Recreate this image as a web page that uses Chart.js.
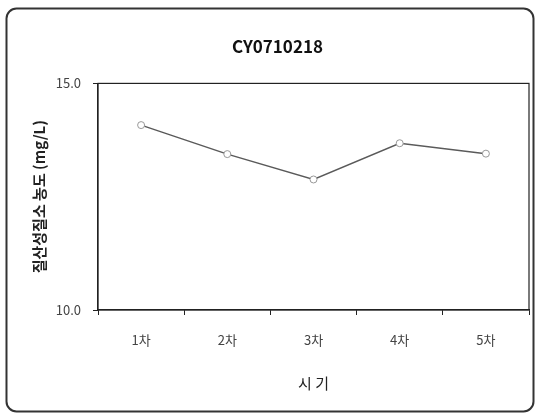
<!DOCTYPE html>
<html>
<head>
<meta charset="utf-8">
<script src="https://cdn.jsdelivr.net/npm/chart.js@4"></script>
<style>
  html, body { margin: 0; padding: 0; background: #fff; }
  #wrap { width: 540px; height: 419px; }
</style>
</head>
<body>
<div id="wrap"><canvas id="chart" width="540" height="419"></canvas></div>
<script>
// chart data
const periods = ['1차', '2차', '3차', '4차', '5차'];
const nitrateValues = [14.08, 13.44, 12.88, 13.68, 13.45];
const yTicks = [10, 15];

const fontKR = "'Noto Sans CJK KR', 'Noto Sans', sans-serif";

// rounded frame round the whole chart + box round the plot area
const framePlugin = {
  id: 'frame',
  beforeDraw(chart) {
    const ctx = chart.ctx;
    ctx.save();
    ctx.fillStyle = '#fff';
    ctx.fillRect(0, 0, chart.width, chart.height);
    ctx.restore();
  },
  afterDraw(chart) {
    const ctx = chart.ctx;
    const a = chart.chartArea;
    ctx.save();
    ctx.strokeStyle = '#222';
    ctx.lineWidth = 1.2;
    ctx.strokeRect(a.left, a.top, a.right - a.left, a.bottom - a.top);
    ctx.strokeStyle = '#333';
    ctx.lineWidth = 2;
    ctx.beginPath();
    ctx.roundRect(6.5, 8.5, 527, 403, 10);
    ctx.stroke();
    ctx.restore();
  }
};

new Chart(document.getElementById('chart'), {
  type: 'line',
  data: {
    labels: periods,
    datasets: [{
      data: nitrateValues,
      borderColor: '#5a5a5a',
      borderWidth: 1.5,
      pointStyle: 'circle',
      pointRadius: 3.5,
      pointBackgroundColor: '#fff',
      pointBorderColor: '#999',
      pointBorderWidth: 1,
      tension: 0
    }]
  },
  options: {
    responsive: false,
    animation: false,
    layout: { padding: { left: 26, right: 11, top: 10, bottom: 20 } },
    plugins: {
      legend: { display: false },
      tooltip: { enabled: false },
      title: {
        display: true,
        text: 'CY0710218',
        color: '#111',
        font: { family: fontKR, size: 17, weight: 'bold' },
        padding: { top: 26, bottom: 27 }
      }
    },
    scales: {
      x: {
        offset: true,
        grid: { display: true, offset: true, drawOnChartArea: false, drawTicks: true, tickLength: 5, color: '#222' },
        border: { display: true, color: '#222', width: 1.2 },
        ticks: { color: '#444', font: { family: fontKR, size: 13 }, padding: 17 },
        title: {
          display: true,
          text: '시 기',
          color: '#222',
          font: { family: fontKR, size: 15 },
          padding: { top: 4, bottom: 7 }
        },
        afterFit(scale) { scale.height = 89; }
      },
      y: {
        min: 10,
        max: 15,
        afterBuildTicks(scale) { scale.ticks = yTicks.map(v => ({ value: v })); },
        grid: { display: true, drawOnChartArea: false, drawTicks: true, tickLength: 5, color: '#222' },
        border: { display: true, color: '#222', width: 1.2 },
        ticks: {
          color: '#444',
          font: { family: fontKR, size: 13 },
          padding: 12,
          callback: v => Number(v).toFixed(1)
        },
        title: {
          display: true,
          text: '질산성질소 농도 (mg/L)',
          color: '#222',
          font: { family: fontKR, size: 15, weight: 'bold' },
          padding: { top: 4, bottom: 4 }
        },
        afterFit(scale) { scale.width = 72; }
      }
    }
  },
  plugins: [framePlugin]
});
</script>
</body>
</html>
